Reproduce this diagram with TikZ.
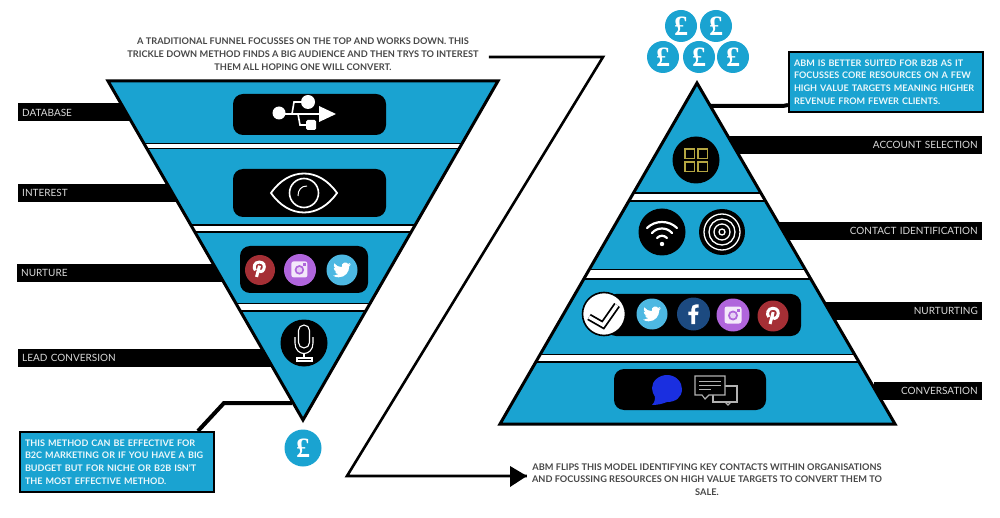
\documentclass[tikz,border=0pt]{standalone}
\usepackage{fontspec}
\setmainfont{Lato}
\newfontfamily\coinfont{Liberation Serif}
\usetikzlibrary{arrows.meta}
\definecolor{funnelblue}{HTML}{1AA3D1}
\definecolor{twitterblue}{HTML}{4DB8E2}
\definecolor{pinred}{HTML}{A52F35}
\definecolor{instapurple}{HTML}{B065DC}
\definecolor{fbblue}{HTML}{1C4A80}
\definecolor{bubbleblue}{HTML}{1A2FE0}
\definecolor{tileolive}{HTML}{B5A642}
\tikzstyle{leftbar} = [
    rectangle,                 % Shape
    fill=black,                % Solid bar
    text=white!85!black,       % Pale label
    anchor=west,
    align=left,
    minimum height=18pt,
    inner xsep=4pt,
    inner ysep=0pt,
    font=\fontsize{10}{12}\selectfont
]
\tikzstyle{rightbar} = [leftbar, anchor=east, align=right]
\tikzstyle{notetext} = [align=center, inner sep=0pt, text=black!72, font=\fontsize{9.2}{12.7}\selectfont\bfseries]
\tikzstyle{notebox} = [
    rectangle,
    draw=black,
    line width=2pt,
    fill=funnelblue,
    text=white!92!funnelblue,
    align=left,
    anchor=north west,
    inner xsep=5pt,
    inner ysep=0pt,
    minimum height=60pt,
    font=\fontsize{9.05}{12.7}\selectfont\bfseries
]
\tikzstyle{iconpanel} = [rectangle, rounded corners=10pt, fill=black, inner sep=0pt]
\tikzstyle{iconcircle} = [circle, inner sep=0pt]
\tikzstyle{coin} = [circle, fill=funnelblue, text=white, inner sep=0pt, minimum size=32pt, font=\coinfont\fontsize{28}{28}\selectfont\bfseries]
\tikzstyle{callout} = [line width=4pt, line join=miter]
\tikzstyle{zline} = [line width=2.6pt, line join=miter]
\tikzstyle{gapband} = [draw=black, line width=1.6pt, fill=white]
\tikzstyle{outline} = [draw=black, line width=3pt, line join=miter]
\tikzset{
    pics/usbicon/.style={code={
        \fill[white] (-28,-1) circle (6.5);
        \fill[white] (1,-12) circle (7);
        \fill[white, rounded corners=1.5pt] (-1,6) rectangle (9,16);
        \fill[white] (12,-8) -- (29,0) -- (12,8) -- cycle;
        \draw[white, line width=1.6pt] (-26,0) -- (12,0);
        \draw[white, line width=1.6pt] (-15,0) -- (-13,-12) -- (0,-12);
        \draw[white, line width=1.6pt] (-9,0) -- (-7,11) -- (2,11);
    }},
    pics/eyeicon/.style={code={
        \draw[white, line width=1.8pt] (-33,0) .. controls (-15,-26) and (15,-26) .. (33,0) .. controls (15,26) and (-15,26) .. (-33,0) -- cycle;
        \draw[white, line width=1.6pt] (0,0) circle (14.5);
        \draw[white, line width=1pt] (-6,3) .. controls (-6,-3) and (-3,-7) .. (3,-7);
    }},
    pics/micicon/.style={code={
        \draw[white, line width=1.1pt, rounded corners=5.5pt] (-5.5,-18) rectangle (5.5,5);
        \draw[white, line width=1.1pt] (-9,-6) -- (-9,0) .. controls (-9,14) and (9,14) .. (9,0) -- (9,-6);
        \draw[white, line width=1.1pt] (0,11) -- (0,15);
        \draw[white, line width=1.1pt] (-7,15) rectangle (8,18);
    }},
    pics/pinicon/.style={code={
        \draw[white, line width=3pt] (8.2,13.8) .. controls (5.5,10.5) and (7,4.5) .. (12.5,4.5) .. controls (18,4.5) and (19,9) .. (17.5,12.5) .. controls (16,16) and (12.5,15.5) .. (11.5,14);
        \draw[white, line width=3pt] (12.8,8.5) -- (9.5,21);
    }},
    pics/instaicon/.style={code={
        \fill[white!85!instapurple, rounded corners=2.5pt] (3.5,3.5) rectangle (20.5,20.5);
        \fill[instapurple] (12,12.5) circle (5);
        \fill[white!70!instapurple] (12,12.5) circle (3);
        \fill[instapurple] (15.5,5.5) rectangle (18.5,8.5);
    }},
    pics/tweeticon/.style={code={
        \fill[white] (23.95,4.57) -- (21.13,5.35) -- (23.29,2.62) -- (20.16,3.81)
            .. controls (17.8,0.7) and (10.6,1.5) .. (11.78,8.29)
            .. controls (7.69,8.1) and (4.07,6.13) .. (1.64,3.16)
            .. controls (0.5,5.2) and (1.1,8.4) .. (3.16,9.73)
            -- (0.93,9.12)
            .. controls (1,11.6) and (2.7,13.6) .. (4.88,14)
            .. controls (4.15,14.15) and (3.4,14.2) .. (2.67,14.09)
            .. controls (3.3,16.1) and (5.2,17.45) .. (7.27,17.5)
            .. controls (5.5,18.9) and (3.4,19.6) .. (1.17,19.6)
            .. controls (.78,19.6) and (.39,19.58) .. (0,19.54)
            .. controls (2.2,21) and (4.8,21.75) .. (7.56,21.75)
            .. controls (16.6,21.75) and (21.55,14.25) .. (21.55,7.76)
            -- (21.54,7.13)
            .. controls (22.5,6.4) and (23.3,5.55) .. (24,4.59) -- cycle;
    }},
    pics/fbicon/.style={code={
        \fill[white] (13.5,22) -- (13.5,13) -- (16.5,13) -- (17,9.5) -- (13.5,9.5) -- (13.5,7.4)
            .. controls (13.5,6.4) and (13.8,5.7) .. (15.3,5.7) -- (17.1,5.7) -- (17.1,2.5)
            .. controls (16.8,2.5) and (15.7,2.4) .. (14.4,2.4)
            .. controls (11.7,2.4) and (9.9,4) .. (9.9,7) -- (9.9,9.5) -- (6.9,9.5) -- (6.9,13)
            -- (9.9,13) -- (9.9,22) -- cycle;
    }},
    pics/tileicon/.style={code={
        \foreach \tx/\ty in {-11/-11,2/-11,-11/2,2/2} {
            \draw[tileolive, line width=1.2pt] (\tx,\ty) rectangle ++(9.5,9.5);
        }
    }},
    pics/wifiicon/.style={code={
        \draw[white, line width=2.2pt, line cap=round] (-15,-4) .. controls (-7,-12) and (7,-12) .. (15,-4);
        \draw[white, line width=2.2pt, line cap=round] (-10,1) .. controls (-5,-5) and (5,-5) .. (10,1);
        \draw[white, line width=2.2pt, line cap=round] (-5,6) .. controls (-2,3) and (2,3) .. (5,6);
        \fill[white] (0,12) circle (2.2);
    }},
    pics/targeticon/.style={code={
        \foreach \tr in {3,8,13,18} {
            \draw[white, line width=1.3pt] (0,0) circle (\tr);
        }
    }},
    pics/checkicon/.style={code={
        \draw[black, line width=7pt, line join=miter] (-15,3) -- (-1,11) -- (13,-9);
        \draw[white, line width=3.4pt, line join=miter] (-15,3) -- (-1,11) -- (13,-9);
    }},
    pics/bubbleicon/.style={code={
        \fill[bubbleblue] (0,-15) .. controls (9,-15) and (15,-8) .. (15,-1) .. controls (15,8) and (8,12) .. (0,12)
            .. controls (-5,14) and (-10,15) .. (-15,15) .. controls (-12,12) and (-12,9) .. (-12,7)
            .. controls (-14,3) and (-15,1) .. (-15,-2) .. controls (-15,-9) and (-8,-15) .. (0,-15) -- cycle;
    }},
    pics/chaticon/.style={code={
        \draw[white!70!black, line width=1.1pt, fill=black] (18,-4) rectangle (42,12);
        \draw[white!70!black, line width=1.1pt, fill=black] (0,-14) -- (30,-14) -- (30,5) -- (14,5) -- (10,9) -- (7,5) -- (0,5) -- cycle;
        \foreach \ly/\lx in {-9/26,-5/26,-1/16} {
            \draw[white!70!black, line width=1pt] (4,\ly) -- (\lx,\ly);
        }
        \draw[white!70!black, line width=1.1pt] (30,12) -- (33,15) -- (36,12);
    }}
}
\begin{document}
\begin{tikzpicture}[x=1pt, y=-1pt]
    \useasboundingbox (0,0) rectangle (1000,518);

    % Corners
    \coordinate (funnelleft) at (108,81);
    \coordinate (funnelright) at (498,81);
    \coordinate (funnelapex) at (303,420);
    \coordinate (pyramidapex) at (697,83);
    \coordinate (pyramidleft) at (500,424);
    \coordinate (pyramidright) at (895,424);

    % Labels on the funnel
    \node[leftbar, text width=104pt] (database) at (18,112.5) {DATABASE};
    \node[leftbar, text width=150pt] (interest) at (18,193) {INTEREST};
    \node[leftbar, text width=197pt] (nurture) at (17,273) {NURTURE};
    \node[leftbar, text width=252pt] (lead) at (18,358) {LEAD CONVERSION};

    % Labels on the pyramid
    \node[rightbar, text width=252pt] (account) at (982,145) {ACCOUNT SELECTION};
    \node[rightbar, text width=200pt] (contact) at (982,231) {CONTACT IDENTIFICATION};
    \node[rightbar, text width=150pt] (nurturing) at (982,311) {NURTURTING};
    \node[rightbar, text width=100pt] (conversation) at (982,391) {CONVERSATION};

    % Notes
    \node[notetext] (funnelnote) at (303,54) {A TRADITIONAL FUNNEL FOCUSSES ON THE TOP AND WORKS DOWN. THIS\\TRICKLE DOWN METHOD FINDS A BIG AUDIENCE AND THEN TRYS TO INTEREST\\THEM ALL HOPING ONE WILL CONVERT.};
    \node[notetext] (abmnote) at (707,479.5) {ABM FLIPS THIS MODEL IDENTIFYING KEY CONTACTS WITHIN ORGANISATIONS\\AND FOCUSSING RESOURCES ON HIGH VALUE TARGETS TO CONVERT THEM TO\\SALE.};
    \node[notebox, text width=184pt] (funnelbox) at (19,431) {THIS METHOD CAN BE EFFECTIVE FOR\\B2C MARKETING OR IF YOU HAVE A BIG\\BUDGET BUT FOR NICHE OR B2B ISN'T\\THE MOST EFFECTIVE METHOD.};
    \node[notebox, text width=184pt] (abmbox) at (788,51) {ABM IS BETTER SUITED FOR B2B AS IT\\FOCUSSES CORE RESOURCES ON A FEW\\HIGH VALUE TARGETS MEANING HIGHER\\REVENUE FROM FEWER CLIENTS.};

    % Connectors
    \coordinate (funnelstub) at (292,403);
    \coordinate (funnelbend) at (224,403);
    \coordinate (pyramidstub) at (710,106);
    \coordinate (pyramidbend) at (783,106);
    \coordinate (ztop) at (603,57);
    \coordinate (zbottom) at (347,476);
    \draw[callout] ([xshift=-17pt]funnelbox.north east) -- (funnelbend) -- (funnelstub);
    \draw[callout] (pyramidstub) -- (pyramidbend) -- ([yshift=8pt]abmbox.south west);
    \draw[zline] ([xshift=10pt]funnelnote.east |- ztop) -- (ztop) -- (zbottom) -- ([xshift=-5pt]abmnote.west |- zbottom);
    \fill (510,466) -- ([xshift=-5pt]abmnote.west |- zbottom) -- (510,487) -- cycle;

    % Funnel
    \fill[funnelblue] (funnelleft) -- (funnelright) -- (funnelapex) -- cycle;
    \begin{scope}
        \clip (funnelleft) -- (funnelright) -- (funnelapex) -- cycle;
        \foreach \ytop/\ybot in {143.5/148.5,225/232,303.5/311} {
            \draw[gapband] (90,\ytop) rectangle (520,\ybot);
        }
    \end{scope}
    \draw[outline] (funnelleft) -- (funnelright) -- (funnelapex) -- cycle;

    % Pyramid
    \fill[funnelblue] (pyramidapex) -- (pyramidright) -- (pyramidleft) -- cycle;
    \begin{scope}
        \clip (pyramidapex) -- (pyramidright) -- (pyramidleft) -- cycle;
        \foreach \ytop/\ybot in {193/201,269.5/279,354.5/362} {
            \draw[gapband] (480,\ytop) rectangle (910,\ybot);
        }
    \end{scope}
    \draw[outline] (pyramidapex) -- (pyramidright) -- (pyramidleft) -- cycle;

    % Funnel icons
    \node[iconpanel, minimum width=153pt, minimum height=41pt] (usbpanel) at (309.5,114.5) {};
    \node[iconpanel, minimum width=153pt, minimum height=48pt] (eyepanel) at (309.5,193) {};
    \node[iconpanel, minimum width=128pt, minimum height=47pt] (socialpanel) at (304,269.5) {};
    \pic at (307,114) {usbicon};
    \pic at (304,193) {eyeicon};
    \node[iconcircle, fill=pinred, minimum size=30pt] (pinleft) at (260,270) {};
    \node[iconcircle, fill=instapurple, minimum size=32pt] (instaleft) at (300,270) {};
    \node[iconcircle, fill=twitterblue, minimum size=31pt] (tweetleft) at (342,270) {};
    \pic[shift={(-12,-12)}, scale=.9] at (pinleft) {pinicon};
    \pic[shift={(-12,-12)}, scale=.95] at (instaleft) {instaicon};
    \pic[shift={(-9,-9)}, scale=.75] at (tweetleft) {tweeticon};
    \node[iconcircle, fill=black, minimum size=47pt] (micpanel) at (304,343) {};
    \pic at (micpanel) {micicon};
    \node[coin, minimum size=37pt] (coinfunnel) at (303,448) {£};

    % Pyramid icons
    \node[coin] (coina) at (681,26) {£};
    \node[coin] (coinb) at (716,26) {£};
    \node[coin] (coinc) at (663,57) {£};
    \node[coin] (coind) at (699,57) {£};
    \node[coin] (coine) at (733,57) {£};
    \node[iconcircle, fill=black, minimum size=47pt] (tilepanel) at (696,160) {};
    \pic at (tilepanel) {tileicon};
    \node[iconcircle, fill=black, minimum size=47pt] (wifipanel) at (662,232) {};
    \pic at (wifipanel) {wifiicon};
    \node[iconcircle, fill=black, minimum size=46pt] (targetpanel) at (722,232) {};
    \pic at (targetpanel) {targeticon};
    \node[iconpanel, minimum width=195pt, minimum height=42pt] (nurturepanel) at (703.5,315) {};
    \node[iconcircle, draw=black, line width=1.6pt, fill=white, minimum size=43pt] (checkpanel) at (604,314) {};
    \pic at (checkpanel) {checkicon};
    \node[iconcircle, fill=twitterblue, minimum size=31pt] (tweetright) at (652,314) {};
    \node[iconcircle, fill=fbblue, minimum size=33pt] (fbright) at (693.5,314) {};
    \node[iconcircle, fill=instapurple, minimum size=33pt] (instaright) at (733,315) {};
    \node[iconcircle, fill=pinred, minimum size=31pt] (pinright) at (773,316) {};
    \pic[shift={(-9,-9)}, scale=.75] at (tweetright) {tweeticon};
    \pic[shift={(-12,-12)}] at (fbright) {fbicon};
    \pic[shift={(-12,-12)}] at (instaright) {instaicon};
    \pic[shift={(-12,-12)}, scale=.95] at (pinright) {pinicon};
    \node[iconpanel, minimum width=152pt, minimum height=41pt] (chatpanel) at (690,389.5) {};
    \pic at (667,390) {bubbleicon};
    \pic at (695,390) {chaticon};
\end{tikzpicture}
\end{document}
